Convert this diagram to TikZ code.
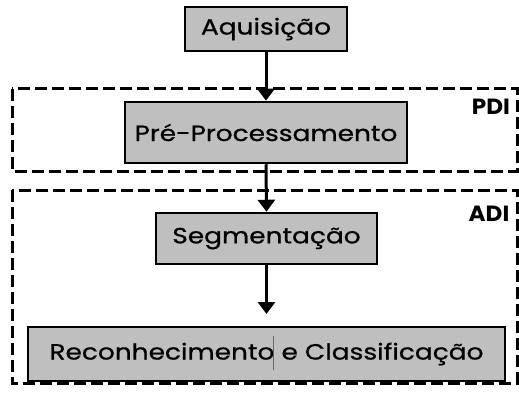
\documentclass[tikz,border=0pt]{standalone}
\usepackage{fontspec}
\setmainfont{Poppins}[FakeStretch=1.2,FakeBold=0.8]
\newfontfamily\labelfont{Poppins}[FakeStretch=1.05]
\usetikzlibrary{arrows.meta}
\begin{document}
\begin{tikzpicture}[x=1pt,y=-1pt,
  procbox/.style={draw=black,line width=2.5pt,fill=black!25,inner sep=0pt,font=\fontsize{22}{26}\selectfont},
  flow/.style={line width=3pt,-{Triangle[width=17pt,length=12pt]}},
  zone/.style={line width=3pt,dash pattern=on 12pt off 5pt},
  zonelabel/.style={font=\labelfont\bfseries\fontsize{22}{25}\selectfont,inner sep=0pt}]
\useasboundingbox (0,0) rectangle (519,393);
\draw[zone] (12,89) rectangle (517,171);
\draw[zone] (12,190) rectangle (517,383);
\node[zonelabel] (pdi) at (491,107) {PDI};
\node[zonelabel] (adi) at (489,214) {ADI};
\node[procbox,minimum width=162pt,minimum height=44pt] (aq) at (266,29) {Aquisição};
\node[procbox,minimum width=282pt,minimum height=61pt] (pre) at (266,132.5) {Pré-Processamento};
\node[procbox,minimum width=221pt,minimum height=51pt] (seg) at (266.5,238.5) {Segmentação};
\node[procbox,minimum width=477pt,minimum height=54pt] (rec) at (266.5,354) {Reconhecimento e Classificação};
\coordinate (segend) at (266.5,314);
\draw[flow] (aq.south) -- (pre.north);
\draw[flow] (pre.south) -- (seg.north);
\draw[flow] (seg.south) -- (segend);
\coordinate (curtop) at (273.5,336);
\coordinate (curbot) at (273.5,370);
\draw[black!60,line width=1pt] (curtop) -- (curbot);
\end{tikzpicture}
\end{document}
